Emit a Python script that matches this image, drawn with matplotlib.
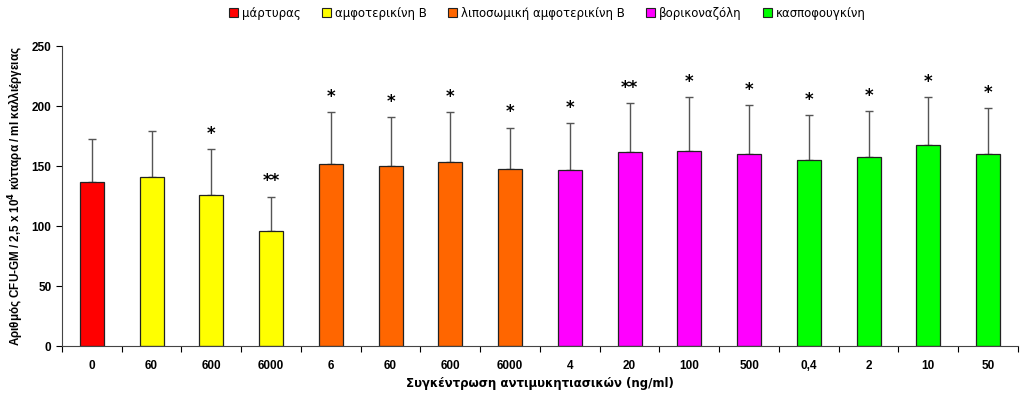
'''
CFU-GM colonies vs antifungal concentration
'''
import matplotlib
matplotlib.use('Agg')
from matplotlib import pyplot as plt
from matplotlib.patches import Patch

plt.rcParams['font.family'] = ['Liberation Sans', 'DejaVu Sans']
plt.rcParams['font.weight'] = 'bold'

#data
conc_labels = ['0', '60', '600', '6000', '6', '60', '600', '6000',
               '4', '20', '100', '500', '0,4', '2', '10', '50']
means = [137, 141, 125.5, 95.5, 152, 150, 153.6, 147.7,
         147, 162, 162.5, 159.6, 155.4, 157.7, 167.3, 159.6]
err_top = [172.8, 179, 164, 124.5, 195, 190.5, 195, 182,
           186, 202.6, 207.6, 201, 192.3, 196, 207.6, 198]
signif = ['', '', '*', '**', '*', '*', '*', '*',
          '*', '**', '*', '*', '*', '*', '*', '*']
group = ['control', 'amb', 'amb', 'amb', 'lamb', 'lamb', 'lamb', 'lamb',
         'vor', 'vor', 'vor', 'vor', 'casp', 'casp', 'casp', 'casp']
group_names = {'control': 'μάρτυρας', 'amb': 'αμφοτερικίνη Β',
               'lamb': 'λιποσωμική αμφοτερικίνη Β', 'vor': 'βορικοναζόλη',
               'casp': 'κασποφουγκίνη'}
group_colors = {'control': '#FF0000', 'amb': '#FFFF00', 'lamb': '#FF6600',
                'vor': '#FF00FF', 'casp': '#00FF00'}
group_order = ['control', 'amb', 'lamb', 'vor', 'casp']

fig = plt.figure(figsize=(10.23, 3.95), dpi=100)
ax = fig.add_axes([0.0606, 0.124, 0.9345, 0.7595])

x = list(range(len(means)))
colors = [group_colors[g] for g in group]
errs = [t - m for t, m in zip(err_top, means)]
ax.bar(x, means, width=0.4, color=colors, edgecolor='#222222', linewidth=0.9,
       zorder=2)
ax.errorbar(x, means, yerr=[[0] * len(errs), errs], fmt='none',
            ecolor='#555555', elinewidth=1.0, capsize=3, capthick=1.0, zorder=1)

for xi, top, s in zip(x, err_top, signif):
    if s:
        ax.annotate(s, (xi, top), xytext=(0, 11), textcoords='offset points',
                    ha='center', va='center', fontsize=12, fontweight='bold',
                    family='DejaVu Sans')

ax.set_xlim(-0.5, len(means) - 0.5)
ax.set_ylim(0, 250)
ax.set_yticks(range(0, 251, 50))
ax.set_xticks([i + 0.5 for i in range(-1, len(means))], minor=False)
ax.set_xticklabels([])
ax.set_xticks(x, minor=True)
ax.set_xticklabels(conc_labels, minor=True)
ax.tick_params(axis='x', which='major', length=4, direction='out', width=0.8)
ax.tick_params(axis='x', which='minor', length=0, pad=10, labelsize=8.5)
ax.tick_params(axis='y', length=4, direction='out', width=0.8, labelsize=8.5)
for lab in ax.get_xticklabels(minor=True) + ax.get_yticklabels():
    lab.set_fontweight('bold')

ax.spines['top'].set_visible(False)
ax.spines['right'].set_visible(False)
ax.spines['left'].set_color('#444444')
ax.spines['bottom'].set_color('#444444')

ax.set_ylabel('Αριθμός CFU-GM / 2,5 x 10$^{4}$ κύτταρα / ml καλλιέργειας',
              fontsize=8.4, fontweight='bold', labelpad=4)
ax.set_xlabel('Συγκέντρωση αντιμυκητιασικών (ng/ml)', fontsize=8.5,
              fontweight='bold', labelpad=4, family='DejaVu Sans')

handles = [Patch(facecolor=group_colors[g], edgecolor='#222222', linewidth=0.8,
                 label=group_names[g]) for g in group_order]
leg = fig.legend(handles=handles, loc='center', bbox_to_anchor=(0.535, 0.967),
                 ncol=5, frameon=False, handlelength=0.8,
                 handleheight=0.8, handletextpad=0.3, columnspacing=1.8,
                 prop={'family': 'DejaVu Sans', 'size': 8.5, 'weight': 'normal'})

plt.savefig('out.png', dpi=100)
